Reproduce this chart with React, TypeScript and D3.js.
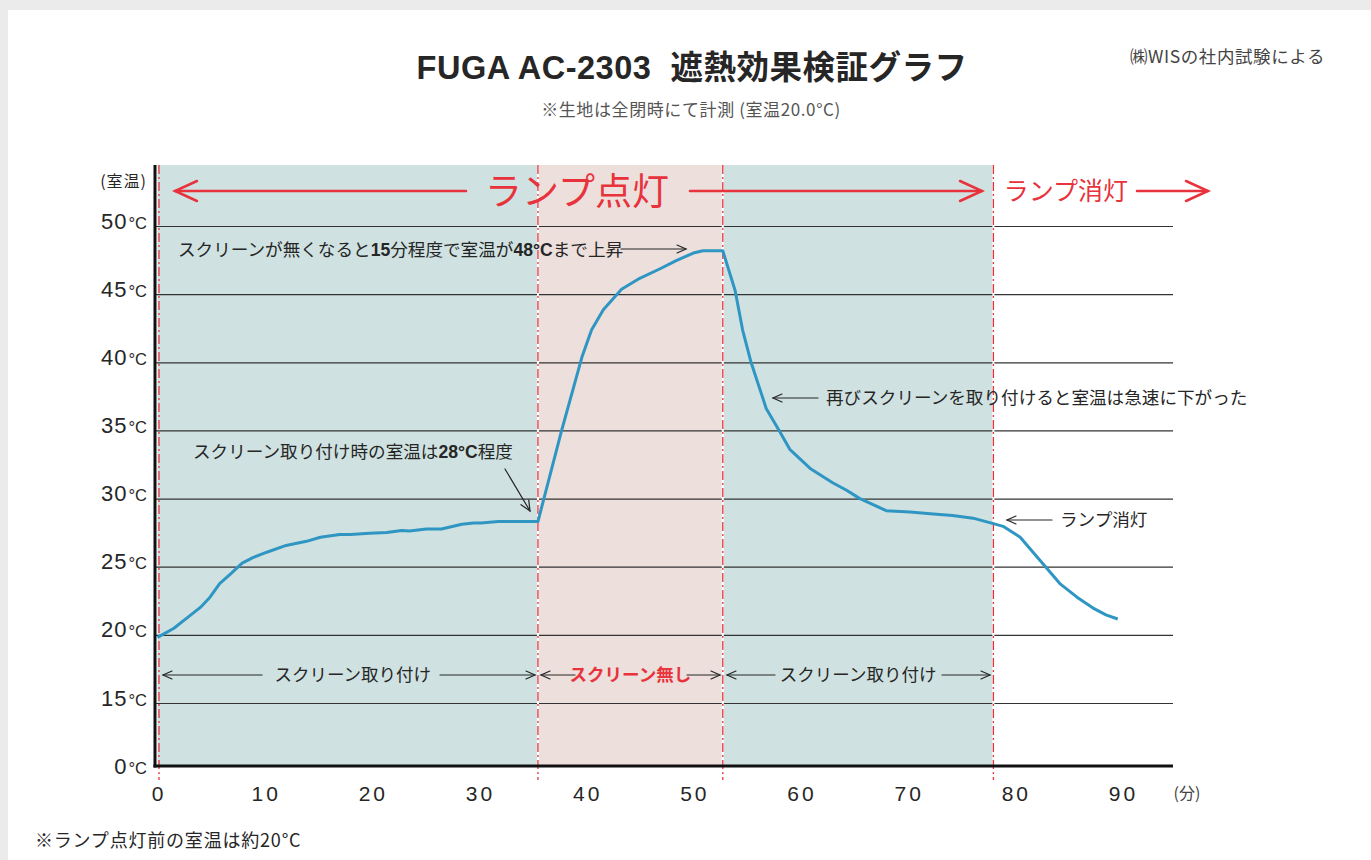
import React from "react";
import * as d3 from "d3";

// elapsed minutes and room temperature (°C)
const timeMin = [
  0, 1.5, 2.7, 4, 4.9, 5.8, 6.8, 7.9, 8.9, 10.2, 12, 13.9, 15.2, 17, 18, 19.8,
  21.4, 22.8, 23.5, 25.1, 26.5, 28.4, 29.5, 30.2, 31.8, 33.5, 35.5, 37.7, 39.6,
  40.5, 41.6, 43.3, 45, 46.9, 48.4, 50, 50.9, 52.75, 53.9, 54.6, 55.4, 56.8,
  58.1, 59, 60.9, 63, 64.3, 65.5, 68, 70.2, 72.4, 74.2, 76.1, 78, 78.9, 80.5,
  81.7, 83, 84.2, 85.8, 87.3, 88.5, 89.6,
];
const tempC = [
  19.85, 20.5, 21.25, 22.05, 22.8, 23.8, 24.5, 25.3, 25.7, 26.1, 26.6, 26.9,
  27.2, 27.4, 27.4, 27.5, 27.55, 27.7, 27.65, 27.8, 27.8, 28.15, 28.25, 28.25,
  28.35, 28.35, 28.35, 35.0, 40.4, 42.4, 43.9, 45.4, 46.2, 46.9, 47.5, 48.05,
  48.22, 48.22, 45.3, 42.4, 40.0, 36.65, 34.9, 33.65, 32.25, 31.2, 30.65, 30.05,
  29.15, 29.05, 28.9, 28.8, 28.6, 28.2, 28.0, 27.2, 26.1, 24.9, 23.8, 22.8,
  22.0, 21.5, 21.2,
];

// phase boundaries (minutes) and their states
const phaseEdges = [0, 35.5, 52.75, 78];
const phaseNames = ["スクリーン取り付け", "スクリーン無し", "スクリーン取り付け"];
const phaseFill = ["#cfe2e1", "#ecdfdc", "#cfe2e1"];

const yTicks = [0, 15, 20, 25, 30, 35, 40, 45, 50];
const yGrid = [15, 20, 25, 30, 35, 40, 45, 50];
const xTicks = [0, 10, 20, 30, 40, 50, 60, 70, 80, 90];

const RED = "#e8323c";
const INK = "#262626";
const JP = "'Noto Sans CJK JP', 'Noto Sans', sans-serif";
const LAT = "'Liberation Sans', Arial, 'Noto Sans CJK JP', sans-serif";
const NOTE = 17.6;

const Arrow = ({ x1, y1, x2, y2, color = INK, head = 9, half = 4, sw = 1.2 }: any) => {
  const a = Math.atan2(y2 - y1, x2 - x1);
  const bx = x2 - head * Math.cos(a);
  const by = y2 - head * Math.sin(a);
  const nx = -Math.sin(a) * half;
  const ny = Math.cos(a) * half;
  return (
    <g stroke={color} strokeWidth={sw} fill="none" strokeLinecap="round">
      <line x1={x1} y1={y1} x2={x2} y2={y2} />
      <polyline points={`${bx + nx},${by + ny} ${x2},${y2} ${bx - nx},${by - ny}`} />
    </g>
  );
};

export default function App() {
  const W = 1371;
  const H = 860;
  const top = 165;
  const left = 155;
  const right = 1173;

  const x = d3.scaleLinear().domain([0, 90]).range([157.5, 1122]);
  const y = d3.scaleLinear().domain([0, 15, 50]).range([766, 703.5, 226.5]);
  const bottom = y(0);

  const line = d3
    .line<number>()
    .x((_, i) => x(timeMin[i]))
    .y((d) => y(d));

  const labelY = 675;

  return (
    <svg width={W} height={H} style={{ position: "absolute", left: 0, top: 0 }}>
      <rect x={0} y={0} width={W} height={H} fill="#ebebeb" />
      <rect x={8} y={10} width={W - 8} height={H - 10} fill="#ffffff" />

      {/* titles */}
      <text x={692} y={79} textAnchor="middle" fontFamily={LAT} fontWeight="bold" fontSize={32.5} fill={INK} letterSpacing={0.5}>
        FUGA AC-2303{"\u00a0\u00a0"}
        <tspan fontFamily={JP}>遮熱効果検証グラフ</tspan>
      </text>
      <text x={691} y={116} textAnchor="middle" fontFamily={JP} fontSize={17} fill="#555" letterSpacing={0.6}>
        ※生地は全閉時にて計測 (室温20.0°C)
      </text>
      <text x={1325} y={63} textAnchor="end" fontFamily={JP} fontSize={17.5} fill="#444" letterSpacing={0.6}>
        ㈱WISの社内試験による
      </text>

      {/* phase bands */}
      {phaseFill.map((c, i) => (
        <rect key={i} x={x(phaseEdges[i])} y={top} width={x(phaseEdges[i + 1]) - x(phaseEdges[i])} height={bottom - top} fill={c} />
      ))}

      {/* grid */}
      {yGrid.map((t) => (
        <line key={t} x1={left} x2={right} y1={y(t)} y2={y(t)} stroke="#333" strokeWidth={1.2} />
      ))}

      {/* phase boundary lines */}
      {phaseEdges.map((m, i) => (
        <g key={i}>
          {i > 0 && <line x1={x(m)} x2={x(m)} y1={top} y2={bottom} stroke="#fff" strokeWidth={2} />}
          <line x1={x(m) + (i === 0 ? 1.5 : 0)} x2={x(m) + (i === 0 ? 1.5 : 0)} y1={top} y2={780} stroke={RED} strokeWidth={1.3} strokeDasharray="9,3,2,3" />
        </g>
      ))}

      {/* axes */}
      <line x1={left} x2={left} y1={top} y2={bottom + 1.5} stroke="#111" strokeWidth={3} />
      <line x1={left - 1.5} x2={right} y1={bottom} y2={bottom} stroke="#111" strokeWidth={3} />

      {yTicks.map((t) => (
        <text key={t} x={147} y={y(t) + (t === 0 ? 8 : 2)} textAnchor="end" fontFamily={LAT} fill={INK}>
          <tspan fontSize={22} letterSpacing={1}>{t}</tspan>
          <tspan fontSize={16.5} dx={1}>°C</tspan>
        </text>
      ))}
      <text x={147} y={187} textAnchor="end" fontFamily={JP} fontSize={16} fill={INK} letterSpacing={1}>
        (室温)
      </text>

      {xTicks.map((t) => (
        <text key={t} x={x(t) + 1.5} y={801} textAnchor="middle" fontFamily={LAT} fontSize={21} fill={INK} letterSpacing={3}>
          {t}
        </text>
      ))}
      <text x={1187} y={799} textAnchor="middle" fontFamily={JP} fontSize={16} fill="#444">
        (分)
      </text>

      {/* lamp on / off header */}
      <Arrow x1={466} y1={191} x2={175} y2={191} color={RED} head={22} half={10} sw={2.5} />
      <Arrow x1={690} y1={191} x2={982} y2={191} color={RED} head={22} half={10} sw={2.5} />
      <text x={577} y={205} textAnchor="middle" fontFamily={JP} fontSize={37} fill={RED}>
        ランプ点灯
      </text>
      <text x={1066} y={200} textAnchor="middle" fontFamily={JP} fontSize={25} fill={RED}>
        ランプ消灯
      </text>
      <Arrow x1={1137} y1={191} x2={1208} y2={191} color={RED} head={22} half={10} sw={2.5} />

      {/* phase labels */}
      <Arrow x1={262} y1={labelY} x2={163} y2={labelY} />
      <Arrow x1={440} y1={labelY} x2={535} y2={labelY} />
      <Arrow x1={575} y1={labelY} x2={541} y2={labelY} />
      <Arrow x1={687} y1={labelY} x2={720} y2={labelY} />
      <Arrow x1={775} y1={labelY} x2={727} y2={labelY} />
      <Arrow x1={942} y1={labelY} x2={990} y2={labelY} />
      {phaseNames.map((n, i) => (
        <text
          key={i}
          x={(x(phaseEdges[i]) + x(phaseEdges[i + 1])) / 2 + (i === 0 ? 5 : 0)}
          y={labelY + 6}
          textAnchor="middle"
          fontFamily={JP}
          fontSize={17.5}
          fontWeight={i === 1 ? "bold" : "normal"}
          fill={i === 1 ? RED : INK}
        >
          {n}
        </text>
      ))}

      {/* temperature curve */}
      <path d={line(tempC) ?? ""} fill="none" stroke="#2f96c4" strokeWidth={3} strokeLinejoin="round" />

      {/* annotations */}
      <text x={178} y={256} fontFamily={JP} fontSize={NOTE} fill={INK}>
        スクリーンが無くなると<tspan fontFamily={LAT} fontWeight="bold">15</tspan>分程度で室温が
        <tspan fontFamily={LAT} fontWeight="bold">48°C</tspan>まで上昇
      </text>
      <Arrow x1={621} y1={249} x2={686} y2={249} />

      <text x={193} y={458} fontFamily={JP} fontSize={NOTE} fill={INK}>
        スクリーン取り付け時の室温は<tspan fontFamily={LAT} fontWeight="bold">28°C</tspan>程度
      </text>
      <Arrow x1={505} y1={469} x2={530} y2={511} head={10} half={4.5} />

      <Arrow x1={818} y1={398} x2={773} y2={398} />
      <text x={826} y={404} fontFamily={JP} fontSize={NOTE} fill={INK}>
        再びスクリーンを取り付けると室温は急速に下がった
      </text>

      <Arrow x1={1052} y1={520} x2={1007} y2={520} />
      <text x={1060} y={526} fontFamily={JP} fontSize={NOTE} fill={INK}>
        ランプ消灯
      </text>

      <text x={35} y={847} fontFamily={JP} fontSize={18} fill={INK} letterSpacing={0.8}>
        ※ランプ点灯前の室温は約20°C
      </text>
    </svg>
  );
}
